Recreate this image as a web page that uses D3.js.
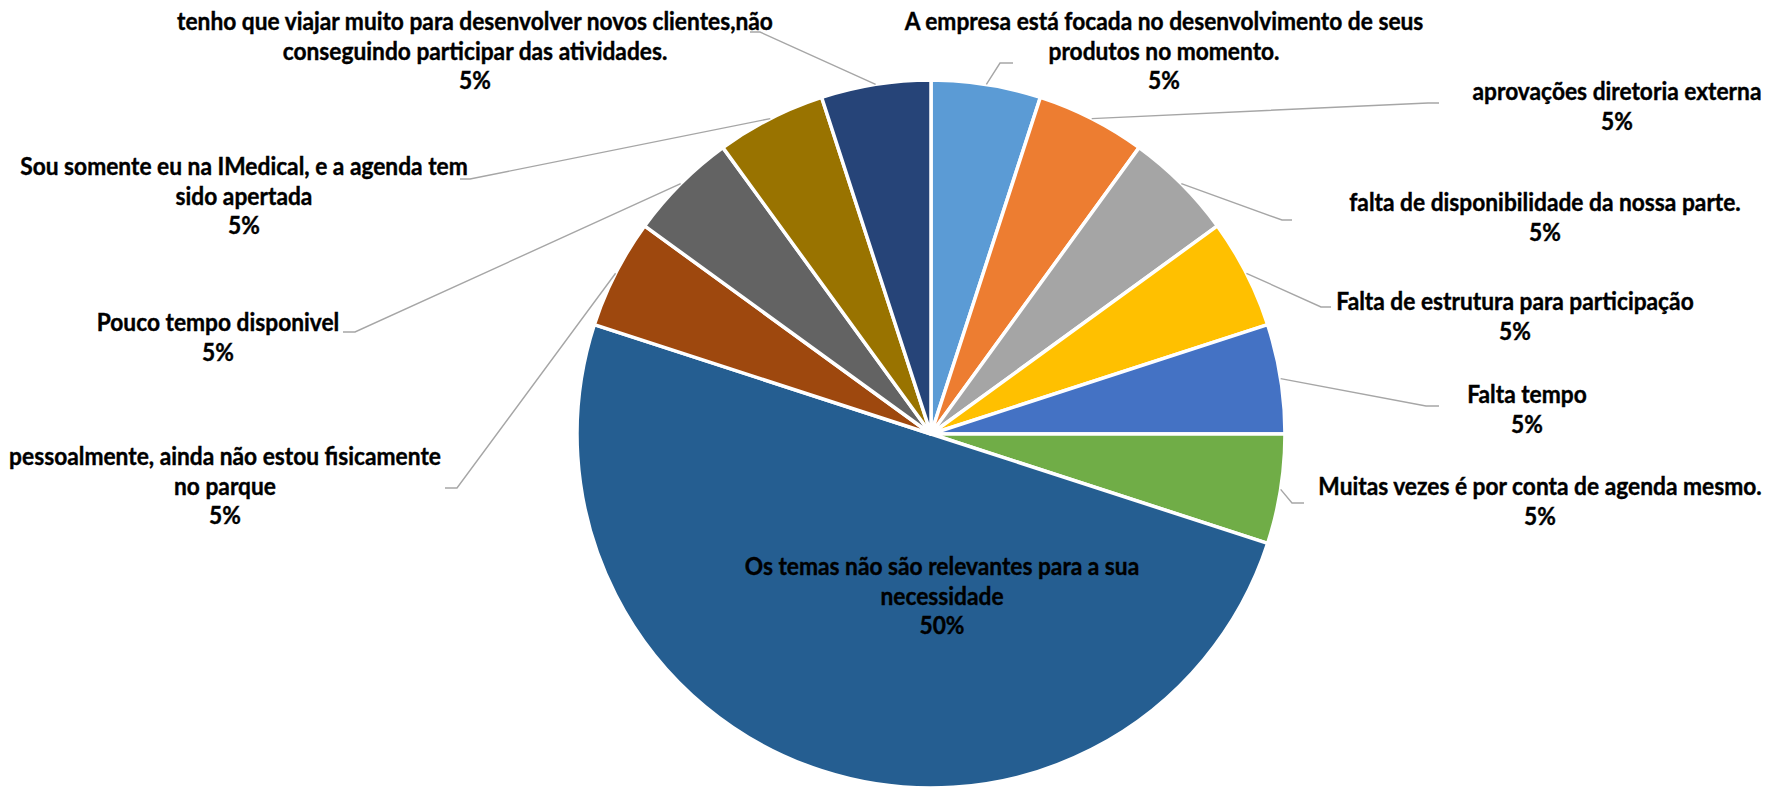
<!DOCTYPE html>
<html>
<head>
<meta charset="utf-8">
<script src="https://cdn.jsdelivr.net/npm/d3@7"></script>
<style>
  body { margin: 0; background: #fff; }
  svg { display: block; }
</style>
</head>
<body>
<div id="chart"></div>
<script>
// categories and answers (count of replies)
var categories = [
  "A empresa está focada no desenvolvimento de seus produtos no momento.",
  "aprovações diretoria externa",
  "falta de disponibilidade da nossa parte.",
  "Falta de estrutura para participação",
  "Falta tempo",
  "Muitas vezes é por conta de agenda mesmo.",
  "Os temas não são relevantes para a sua necessidade",
  "pessoalmente, ainda não estou fisicamente no parque",
  "Pouco tempo disponivel",
  "Sou somente eu na IMedical, e a agenda tem sido apertada",
  "tenho que viajar muito para desenvolver novos clientes,não conseguindo participar das atividades."
];
var counts = [1, 1, 1, 1, 1, 1, 10, 1, 1, 1, 1];

var colors = ["#5B9BD5", "#ED7D31", "#A5A5A5", "#FFC000", "#4472C4", "#70AD47",
              "#255E91", "#9E480E", "#636363", "#997300", "#264478"];

// where each label wraps (word that starts the 2nd line)
var breaks = ["produtos", null, null, null, null, null, "necessidade", "no parque", null, "sido", "conseguindo"];

// label layout: centre x and first line y, then leader elbow x,y and end x
var labelPos = [[1164, 22], [1617, 92], [1545, 203], [1515, 302], [1527, 395], [1540, 487],
                [942, 567], [225, 457], [218, 323], [244, 167], [475, 22]];
var leaderPos = [[1000, 63, 1013], [1428, 103, 1439], [1282, 220, 1292], [1321, 307, 1331],
                 [1426, 406, 1439], [1292, 503, 1304], null, [457, 488, 445], [355, 332, 343],
                 [470, 179, 460], [760, 32, 750]];

var width = 1779, height = 787;
var cx = 931, cy = 434, radius = 354;
var lineGap = 29.5;
var fs = 24;

var svg = d3.select("#chart").append("svg")
    .attr("width", width)
    .attr("height", height);

var total = d3.sum(counts);
var pct = d3.format(".0%");

var pie = d3.pie().sort(null).value(function(d) { return d; });
var arc = d3.arc().innerRadius(0).outerRadius(radius);
var arcs = pie(counts);

var g = svg.append("g").attr("transform", "translate(" + cx + "," + cy + ")");

g.selectAll("path.slice")
    .data(arcs)
  .enter().append("path")
    .attr("class", "slice")
    .attr("d", arc)
    .attr("fill", function(d, i) { return colors[i]; })
    .attr("stroke", "#fff")
    .attr("stroke-width", 3.5)
    .attr("stroke-linejoin", "round");

// leader lines from the middle of each slice edge
var edge = d3.arc().innerRadius(radius).outerRadius(radius);
arcs.forEach(function(d, i) {
  var lp = leaderPos[i];
  if (!lp) return;
  var p = edge.centroid(d);
  var pts = [[p[0] + cx, p[1] + cy], [lp[0], lp[1]], [lp[2], lp[1]]];
  svg.append("path")
    .attr("d", d3.line()(pts))
    .attr("fill", "none")
    .attr("stroke", "#A6A6A6")
    .attr("stroke-width", 1.4);
});

// calibri is narrow: squeeze the text so the longest line keeps its width
var fontFam = "Lato, 'Open Sans', sans-serif";
var probe = svg.append("text").attr("font-family", fontFam).attr("font-weight", "bold")
    .attr("font-size", fs).text("tenho que viajar muito para desenvolver novos clientes,não");
var sx = 596 / probe.node().getComputedTextLength();
probe.remove();

var labels = svg.append("g")
    .attr("font-family", fontFam)
    .attr("font-weight", "bold")
    .attr("font-size", fs)
    .attr("fill", "#000")
    .attr("stroke", "#000")
    .attr("stroke-width", 0.4)
    .attr("text-anchor", "middle");

categories.forEach(function(name, i) {
  var lines = [name];
  if (breaks[i]) {
    var k = name.indexOf(breaks[i]);
    lines = [name.slice(0, k).trim(), name.slice(k)];
  }
  lines.push(pct(counts[i] / total));
  var t = labels.append("text")
    .attr("transform", "translate(" + labelPos[i][0] + "," + labelPos[i][1] + ") scale(" + sx + ",1)");
  lines.forEach(function(s, j) {
    t.append("tspan")
      .attr("x", 0)
      .attr("y", j * lineGap)
      .attr("dy", "0.35em")
      .text(s);
  });
});
</script>
</body>
</html>
